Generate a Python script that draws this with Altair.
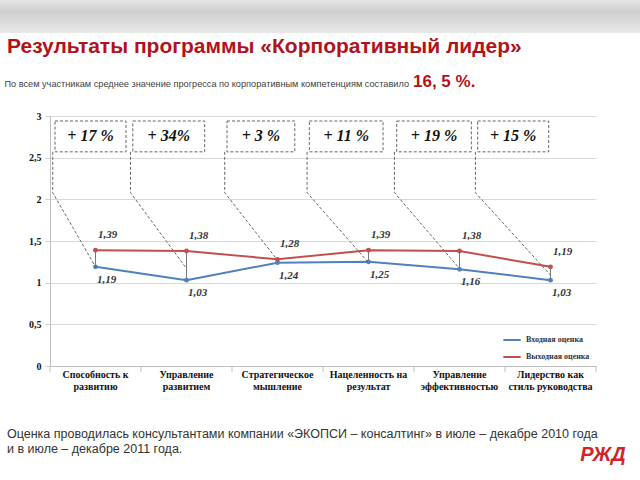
import altair as alt
import pandas as pd

# ---------------- data ----------------
categories = [
    "Способность к\nразвитию",
    "Управление\nразвитием",
    "Стратегическое\nмышление",
    "Нацеленность на\nрезультат",
    "Управление\nэффективностью",
    "Лидерство как\nстиль руководства",
]
input_scores = [1.19, 1.03, 1.24, 1.25, 1.16, 1.03]
output_scores = [1.39, 1.38, 1.28, 1.39, 1.38, 1.19]
gains = ["+ 17 %", "+ 34%", "+ 3 %", "+ 11 %", "+ 19 %", "+ 15 %"]
series_names = ["Входная оценка", "Выходная оценка"]
y_ticks = [0, 0.5, 1, 1.5, 2, 2.5, 3]

title_text = "Результаты программы «Корпоративный лидер»"
subtitle_text = "По всем участникам среднее значение прогресса по корпоративным компетенциям составило"
subtitle_value = "16, 5 %."
footnote_1 = "Оценка проводилась консультантами компании «ЭКОПСИ – консалтинг» в июле – декабре 2010 года"
footnote_2 = "и в июле – декабре 2011 года."

# annotation geometry (x in category units 0..6, y in score units)
box_left = [0.055, 0.91, 1.945, 2.85, 3.81, 4.70]
box_right = [0.835, 1.70, 2.69, 3.66, 4.63, 5.48]
box_bottom, box_top, bend_y = 2.57, 2.94, 2.08
leader_end_y = [1.19, 1.17, 1.27, 1.24, 1.17, 1.09]
band_edges = [0, 1, 2, 3, 4, 5, 6]

BLUE = "#4f81bd"
RED = "#c0504d"
TITLE_RED = "#b3121b"
SERIF = "Liberation Serif"
SANS = "Liberation Sans"

fmt = lambda v: f"{v:.2f}".replace(".", ",")

wide = pd.DataFrame({"category": categories, "inp": input_scores, "out": output_scores})
long = pd.concat([
    pd.DataFrame({"category": categories, "series": series_names[0], "value": input_scores,
                  "label": [fmt(v) for v in input_scores]}),
    pd.DataFrame({"category": categories, "series": series_names[1], "value": output_scores,
                  "label": [fmt(v) for v in output_scores]}),
])

boxes = pd.DataFrame({"x1": box_left, "x2": box_right, "gain": gains,
                      "xc": [(a + b) / 2 for a, b in zip(box_left, box_right)]})
leader_rows = []
for i, (bl, ey) in enumerate(zip(box_left, leader_end_y)):
    sx = bl - 0.025
    leader_rows += [
        {"id": i, "step": 0, "x": sx, "y": box_bottom},
        {"id": i, "step": 1, "x": sx, "y": bend_y},
        {"id": i, "step": 2, "x": i + 0.5, "y": ey},
    ]
leaders = pd.DataFrame(leader_rows)
edges = pd.DataFrame({"e": band_edges})

# ---------------- main chart ----------------
x_enc = alt.X("category:N", sort=categories, title=None,
              scale=alt.Scale(paddingInner=0, paddingOuter=0),
              axis=alt.Axis(labelExpr="split(datum.label, '\\n')", labelAngle=0,
                            labelFont=SERIF, labelFontWeight="bold", labelFontSize=10,
                            labelColor="#111", labelPadding=8, labelLineHeight=12,
                            labelAlign="center", ticks=False,
                            domainColor="#bfbfbf", grid=False))
y_enc = alt.Y("value:Q", title=None,
              scale=alt.Scale(domain=[0, 3], nice=False, zero=True),
              axis=alt.Axis(values=y_ticks,
                            labelExpr="replace(format(datum.value, '~g'), '.', ',')",
                            labelFont=SERIF, labelFontWeight="bold", labelFontSize=10,
                            labelColor="#111", labelPadding=4, tickSize=5,
                            tickColor="#d0d0d0", domainColor="#bfbfbf",
                            gridColor="#d9d9d9", gridWidth=1.2))

color_enc = alt.Color("series:N", scale=alt.Scale(domain=series_names, range=[BLUE, RED]),
                      legend=alt.Legend(title=None, orient="none", legendX=452, legendY=214,
                                        symbolType="stroke", symbolStrokeWidth=2,
                                        symbolSize=300, labelFont=SERIF,
                                        labelFontWeight="bold", labelFontSize=8,
                                        labelColor="#333", rowPadding=3))

drops = alt.Chart(wide).mark_rule(color="#555", strokeWidth=0.8).encode(
    x=alt.X("category:N", sort=categories), y=alt.Y("inp:Q"), y2="out:Q")
lines = alt.Chart(long).mark_line(strokeWidth=2).encode(x=x_enc, y=y_enc, color=color_enc)
points = alt.Chart(long).mark_point(filled=True, size=24, opacity=1).encode(
    x=alt.X("category:N", sort=categories), y="value:Q",
    color=alt.Color("series:N", scale=alt.Scale(domain=series_names, range=[BLUE, RED]), legend=None))
lab_style = dict(font=SERIF, fontStyle="italic", fontWeight="bold", fontSize=11, color="#333")
lab_out = alt.Chart(long).transform_filter(alt.datum.series == series_names[1]).mark_text(
    dx=12, dy=-15, **lab_style).encode(x=alt.X("category:N", sort=categories), y="value:Q", text="label:N")
lab_in = alt.Chart(long).transform_filter(alt.datum.series == series_names[0]).mark_text(
    dx=11, dy=13, **lab_style).encode(x=alt.X("category:N", sort=categories), y="value:Q", text="label:N")

main = alt.layer(drops, lines, points, lab_out, lab_in)

# ---------------- annotations ----------------
xq = alt.Scale(domain=[0, 6], nice=False, zero=False)
tick_chart = alt.Chart(edges).mark_rule(color="#bfbfbf", strokeWidth=1).encode(
    x=alt.X("e:Q", scale=xq, axis=None), y=alt.value(250), y2=alt.value(256))
leader_chart = alt.Chart(leaders).mark_line(color="#666", strokeWidth=1, strokeDash=[3, 2]).encode(
    x=alt.X("x:Q", scale=xq, axis=None), y=alt.Y("y:Q", axis=None, scale=alt.Scale(domain=[0, 3])),
    detail="id:N", order="step:Q")
box_chart = alt.Chart(boxes).mark_rect(fill="white", fillOpacity=0, stroke="#666",
                                       strokeWidth=1, strokeDash=[3, 2]).encode(
    x=alt.X("x1:Q", scale=xq, axis=None), x2="x2:Q",
    y=alt.Y("yb:Q", axis=None), y2="yt:Q").transform_calculate(yb=str(box_bottom), yt=str(box_top))
gain_text = alt.Chart(boxes).mark_text(font=SERIF, fontStyle="italic", fontWeight="bold",
                                       fontSize=16, color="#111").encode(
    x=alt.X("xc:Q", scale=xq, axis=None), y=alt.Y("yc:Q", axis=None), text="gain:N"
).transform_calculate(yc=str((box_bottom + box_top) / 2))

annot = alt.layer(tick_chart, leader_chart, box_chart, gain_text)

# ---------------- page text ----------------
header = alt.Chart(pd.DataFrame({"a": [0]})).mark_rect(
    color=alt.Gradient(gradient="linear", x1=0, x2=0, y1=0, y2=1,
                       stops=[alt.GradientStop(color="#e6e6e6", offset=0),
                              alt.GradientStop(color="#cfcfcf", offset=0.35),
                              alt.GradientStop(color="#e9e9e9", offset=1)])
).encode(x=alt.value(-50), x2=alt.value(590), y=alt.value(-116), y2=alt.value(-83))


def page_text(txt, x, y, **kw):
    return alt.Chart(pd.DataFrame({"t": [txt]})).mark_text(baseline="alphabetic", **kw).encode(
        x=alt.value(x), y=alt.value(y), text="t:N")


title = page_text(title_text, -43, -63, font=SANS, fontWeight="bold", fontSize=21,
                  color=TITLE_RED, align="left")
subtitle = page_text(subtitle_text, 359, -29, font=SANS, fontSize=9.2, color="#404040", align="right")
subval = page_text(subtitle_value, 363, -29, font=SANS, fontWeight="bold", fontSize=17,
                   color=TITLE_RED, align="left")
foot1 = page_text(footnote_1, -43, 322, font=SANS, fontSize=12.5, color="#333", align="left")
foot2 = page_text(footnote_2, -43, 337, font=SANS, fontSize=12.5, color="#333", align="left")
logo = alt.Chart(pd.DataFrame({"t": ["РЖД"]})).mark_text(
    font=SANS, fontWeight="bold", fontStyle="italic", fontSize=20, color="#d2232a",
    align="center", baseline="middle"
).encode(x=alt.value(553), y=alt.value(339), text="t:N")

chart = alt.layer(header, main, annot, title, subtitle, subval, foot1, foot2, logo).resolve_scale(
    x="independent", y="independent"
).properties(
    width=546, height=250,
    autosize=alt.AutoSizeParams(type="none"),
    padding={"left": 50, "top": 116, "right": 44, "bottom": 114},
    background="white",
).configure_view(stroke=None)

chart.save("out.html", embed_options={"renderer": "svg", "actions": False})
